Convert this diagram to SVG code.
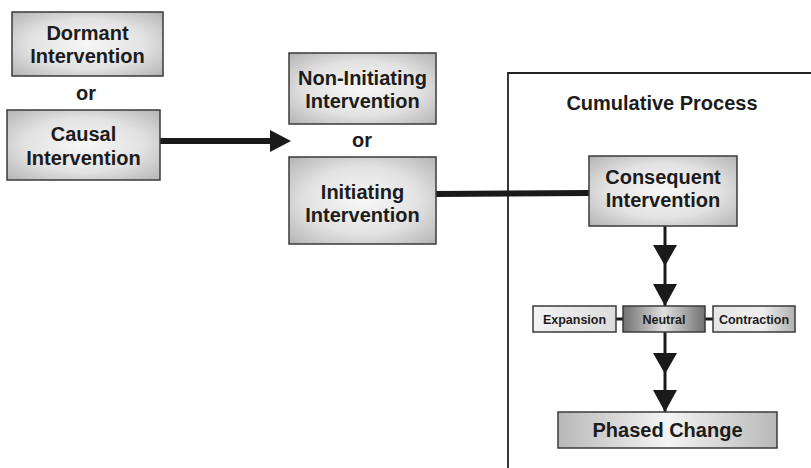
<svg xmlns="http://www.w3.org/2000/svg" width="811" height="468" viewBox="0 0 811 468">
<defs>
<radialGradient id="gBox" cx="50%" cy="50%" r="70%">
<stop offset="0" stop-color="#f7f7f7"/>
<stop offset="0.55" stop-color="#e2e2e2"/>
<stop offset="1" stop-color="#b4b4b4"/>
</radialGradient>
<linearGradient id="gNeutral" x1="0" y1="0" x2="1" y2="0">
<stop offset="0" stop-color="#707070"/>
<stop offset="0.5" stop-color="#e0e0e0"/>
<stop offset="1" stop-color="#707070"/>
</linearGradient>
<linearGradient id="gPhased" x1="0" y1="0" x2="1" y2="0">
<stop offset="0" stop-color="#b8b8b8"/>
<stop offset="0.5" stop-color="#f4f4f4"/>
<stop offset="1" stop-color="#b8b8b8"/>
</linearGradient>
<linearGradient id="gExp" x1="0" y1="0" x2="1" y2="0">
<stop offset="0" stop-color="#f2f2f2"/>
<stop offset="1" stop-color="#dcdcdc"/>
</linearGradient>
<linearGradient id="gCon" x1="0" y1="0" x2="1" y2="0">
<stop offset="0" stop-color="#e6e6e6"/>
<stop offset="0.6" stop-color="#eeeeee"/>
<stop offset="1" stop-color="#b0b0b0"/>
</linearGradient>
</defs>
<style>
.box{stroke:#3a3a3a;stroke-width:1.5}
.t{font-family:"Liberation Sans",Arial,sans-serif;font-weight:bold;font-size:20px;fill:#1c1c1c;text-anchor:middle}
.s{font-family:"Liberation Sans",Arial,sans-serif;font-weight:bold;font-size:12.5px;fill:#1c1c1c;text-anchor:middle}
.thick{stroke:#1a1a1a;stroke-width:6;fill:none}
.thin{stroke:#1a1a1a;stroke-width:3;fill:none}
.head{fill:#1a1a1a}
</style>
<g id="container">
<path d="M508,470 V73 H812" fill="none" stroke="#222" stroke-width="1.8"/>
<text class="t" x="662" y="110">Cumulative Process</text>
</g>
<g id="connectors">
<line class="thick" x1="160" y1="141" x2="272" y2="141"/>
<polygon class="head" points="270,130 291,141 270,152"/>
<line class="thick" x1="436" y1="194" x2="589" y2="193"/>
<line class="thin" x1="665" y1="226" x2="665" y2="306"/>
<polygon class="head" points="653,245 677,245 665,266"/>
<polygon class="head" points="653,284 677,284 665,306"/>
<line class="thin" x1="616" y1="319" x2="623" y2="319"/>
<line class="thin" x1="705" y1="319" x2="713" y2="319"/>
<line class="thin" x1="665" y1="332" x2="665" y2="412"/>
<polygon class="head" points="653,353 677,353 665,374"/>
<polygon class="head" points="653,390 677,390 665,412"/>
</g>
<g id="dormant">
<rect class="box" x="12" y="12" width="151" height="64" fill="url(#gBox)"/>
<text class="t" x="87.5" y="40">Dormant</text>
<text class="t" x="87.5" y="63">Intervention</text>
</g>
<g id="or1"><text class="t" x="86" y="100">or</text></g>
<g id="causal">
<rect class="box" x="7" y="110" width="153" height="70" fill="url(#gBox)"/>
<text class="t" x="83.5" y="141">Causal</text>
<text class="t" x="83.5" y="165">Intervention</text>
</g>
<g id="noninitiating">
<rect class="box" x="289" y="53" width="147" height="71" fill="url(#gBox)"/>
<text class="t" x="362.5" y="85">Non-Initiating</text>
<text class="t" x="362.5" y="108">Intervention</text>
</g>
<g id="or2"><text class="t" x="362" y="147">or</text></g>
<g id="initiating">
<rect class="box" x="289" y="157" width="147" height="87" fill="url(#gBox)"/>
<text class="t" x="362.5" y="199">Initiating</text>
<text class="t" x="362.5" y="222">Intervention</text>
</g>
<g id="consequent">
<rect class="box" x="589" y="156" width="148" height="70" fill="url(#gBox)"/>
<text class="t" x="663" y="184">Consequent</text>
<text class="t" x="663" y="207">Intervention</text>
</g>
<g id="expansion">
<rect class="box" x="533" y="306" width="83" height="26" fill="url(#gExp)"/>
<text class="s" x="574.5" y="323.5">Expansion</text>
</g>
<g id="neutral">
<rect class="box" x="623" y="306" width="82" height="26" fill="url(#gNeutral)"/>
<text class="s" x="664" y="323.5">Neutral</text>
</g>
<g id="contraction">
<rect class="box" x="713" y="306" width="82" height="26" fill="url(#gCon)"/>
<text class="s" x="754" y="323.5">Contraction</text>
</g>
<g id="phased">
<rect class="box" x="558" y="412" width="219" height="36" fill="url(#gPhased)"/>
<text class="t" x="667.5" y="437">Phased Change</text>
</g>
</svg>
